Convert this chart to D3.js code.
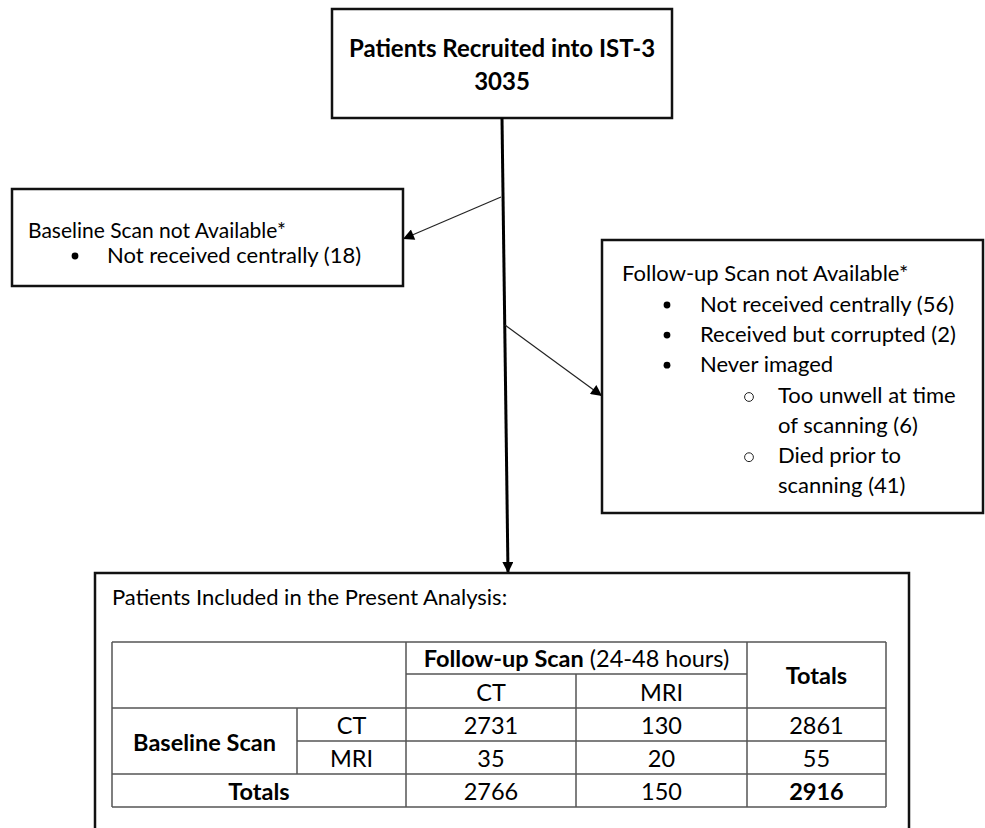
<!DOCTYPE html>
<html>
<head>
<meta charset="utf-8">
<script src="https://cdn.jsdelivr.net/npm/d3@7"></script>
<style>
  body { margin: 0; background: #fff; }
  svg { display: block; font-family: Lato, "Open Sans", sans-serif; }
</style>
</head>
<body>
<div id="chart"></div>
<script>
// flowchart texts
var recruitedTitle = "Patients Recruited into IST-3";
var recruitedCount = 3035;
var baselineTitle = "Baseline Scan not Available*";
var baselineItems = ["Not received centrally (18)"];
var followTitle = "Follow-up Scan not Available*";
var followItems = ["Not received centrally (56)", "Received but corrupted (2)", "Never imaged"];
var neverImagedSub = [["Too unwell at time", "of scanning (6)"], ["Died prior to", "scanning (41)"]];
var includedTitle = "Patients Included in the Present Analysis:";

// table
var followCols = ["CT", "MRI"];
var baselineRows = ["CT", "MRI"];
var counts = [[2731, 130], [35, 20]];
var rowTotals = [2861, 55];
var colTotals = [2766, 150];
var grandTotal = 2916;

var width = 985, height = 828;

var svg = d3.select("#chart").append("svg")
  .attr("width", width)
  .attr("height", height);

var defs = svg.append("defs");
function marker(id, w, h) {
  defs.append("marker")
    .attr("id", id)
    .attr("viewBox", "0 0 10 10")
    .attr("refX", 10).attr("refY", 5)
    .attr("markerWidth", w).attr("markerHeight", h)
    .attr("markerUnits", "userSpaceOnUse")
    .attr("orient", "auto")
    .append("path")
    .attr("d", "M0,0L10,5L0,10Z")
    .attr("fill", "#000");
}
marker("headBig", 13, 11);
marker("headSmall", 14, 11);

function box(x, y, w, h, sw) {
  svg.append("rect")
    .attr("x", x).attr("y", y)
    .attr("width", w).attr("height", h)
    .attr("fill", "none")
    .attr("stroke", "#111")
    .attr("stroke-width", sw);
}

var fs = 22;     // box text
var tfs = 23.5;  // table text

// top box
box(332, 9, 340, 109, 2.5);
svg.append("text")
  .attr("x", 502).attr("y", 57)
  .attr("text-anchor", "middle")
  .attr("font-weight", "bold")
  .attr("font-size", 24)
  .text(recruitedTitle);
svg.append("text")
  .attr("x", 502).attr("y", 90)
  .attr("text-anchor", "middle")
  .attr("font-weight", "bold")
  .attr("font-size", 24)
  .text(recruitedCount);

// main line with arrow
svg.append("line")
  .attr("x1", 502).attr("y1", 118)
  .attr("x2", 508).attr("y2", 573)
  .attr("stroke", "#000")
  .attr("stroke-width", 3)
  .attr("marker-end", "url(#headBig)");

// side arrows
svg.append("line")
  .attr("x1", 501).attr("y1", 197)
  .attr("x2", 403).attr("y2", 239)
  .attr("stroke", "#222").attr("stroke-width", 1.2)
  .attr("marker-end", "url(#headSmall)");
svg.append("line")
  .attr("x1", 505).attr("y1", 325)
  .attr("x2", 602).attr("y2", 396)
  .attr("stroke", "#222").attr("stroke-width", 1.2)
  .attr("marker-end", "url(#headSmall)");

// left box
box(12, 189, 391, 97, 2.5);
svg.append("text")
  .attr("x", 28).attr("y", 238)
  .attr("font-size", 21)
  .text(baselineTitle);
var lb = svg.selectAll(".lb").data(baselineItems).enter().append("g");
lb.append("circle")
  .attr("cx", 75).attr("cy", function(d, i) { return 256 + i * 30; })
  .attr("r", 3.4).attr("fill", "#000");
lb.append("text")
  .attr("x", 107).attr("y", function(d, i) { return 263 + i * 30; })
  .attr("font-size", fs)
  .text(function(d) { return d; });

// right box
box(602, 240, 381, 273, 2.5);
svg.append("text")
  .attr("x", 622).attr("y", 281)
  .attr("font-size", fs)
  .text(followTitle);
var lineH = 30.1;
var rb = svg.selectAll(".rb").data(followItems).enter().append("g");
rb.append("circle")
  .attr("cx", 667).attr("cy", function(d, i) { return 305 + i * lineH; })
  .attr("r", 3.4).attr("fill", "#000");
rb.append("text")
  .attr("x", 700).attr("y", function(d, i) { return 312 + i * lineH; })
  .attr("font-size", fs)
  .text(function(d) { return d; });
var sb = svg.selectAll(".sb").data(neverImagedSub).enter().append("g");
sb.append("circle")
  .attr("cx", 749).attr("cy", function(d, i) { return 397 + i * 2 * lineH; })
  .attr("r", 4.4).attr("fill", "none")
  .attr("stroke", "#222").attr("stroke-width", 1);
sb.each(function(d, i) {
  d3.select(this).selectAll("text").data(d).enter().append("text")
    .attr("x", 778)
    .attr("y", function(t, j) { return 403 + (i * 2 + j) * lineH; })
    .attr("font-size", fs)
    .text(function(t) { return t; });
});

// bottom box (runs off the bottom)
svg.append("path")
  .attr("d", "M95,840V573H909V840")
  .attr("fill", "none")
  .attr("stroke", "#111")
  .attr("stroke-width", 2.5);
svg.append("text")
  .attr("x", 112).attr("y", 605)
  .attr("font-size", fs)
  .text(includedTitle);

// table layout
var colEdge = [112, 297, 406, 576, 747, 886];
var rowEdge = [642, 674, 708, 741, 774, 807];
var colX = d3.scaleOrdinal().domain(followCols).range([(colEdge[2] + colEdge[3]) / 2, (colEdge[3] + colEdge[4]) / 2]);
var rowY = d3.scaleOrdinal().domain([0, 1]).range([rowEdge[2], rowEdge[3]]);
var rowH = 33;

var tbl = svg.append("g").attr("stroke", "#555").attr("stroke-width", 1.5);
function hl(x1, x2, y) { tbl.append("line").attr("x1", x1).attr("x2", x2).attr("y1", y).attr("y2", y); }
function vl(x, y1, y2) { tbl.append("line").attr("x1", x).attr("x2", x).attr("y1", y1).attr("y2", y2); }
hl(colEdge[0], colEdge[5], rowEdge[0]);
hl(colEdge[2], colEdge[4], rowEdge[1]);
hl(colEdge[0], colEdge[5], rowEdge[2]);
hl(colEdge[1], colEdge[5], rowEdge[3]);
hl(colEdge[0], colEdge[5], rowEdge[4]);
hl(colEdge[0], colEdge[5], rowEdge[5]);
vl(colEdge[0], rowEdge[0], rowEdge[5]);
vl(colEdge[1], rowEdge[2], rowEdge[4]);
vl(colEdge[2], rowEdge[0], rowEdge[5]);
vl(colEdge[3], rowEdge[1], rowEdge[5]);
vl(colEdge[4], rowEdge[0], rowEdge[5]);
vl(colEdge[5], rowEdge[0], rowEdge[5]);

function cell(x, y, t, bold) {
  svg.append("text")
    .attr("x", x).attr("y", y)
    .attr("text-anchor", "middle")
    .attr("font-size", tfs)
    .attr("font-weight", bold ? "bold" : "normal")
    .text(t);
}

// header
var hdr = svg.append("text")
  .attr("x", (colEdge[2] + colEdge[4]) / 2).attr("y", 667)
  .attr("text-anchor", "middle")
  .attr("font-size", tfs);
hdr.append("tspan").attr("font-weight", "bold").text("Follow-up Scan");
hdr.append("tspan").text(" (24-48 hours)");
followCols.forEach(function(c) { cell(colX(c), 701, c, false); });
cell((colEdge[4] + colEdge[5]) / 2, 684, "Totals", true);

// body
cell((colEdge[0] + colEdge[1]) / 2, 751, "Baseline Scan", true);
baselineRows.forEach(function(r, i) {
  var y = rowY(i) + rowH - 7;
  cell((colEdge[1] + colEdge[2]) / 2, y, r, false);
  followCols.forEach(function(c, j) { cell(colX(c), y, counts[i][j], false); });
  cell((colEdge[4] + colEdge[5]) / 2, y, rowTotals[i], false);
});
cell((colEdge[0] + colEdge[2]) / 2, 800, "Totals", true);
followCols.forEach(function(c, j) { cell(colX(c), 800, colTotals[j], false); });
cell((colEdge[4] + colEdge[5]) / 2, 800, grandTotal, true);
</script>
</body>
</html>
